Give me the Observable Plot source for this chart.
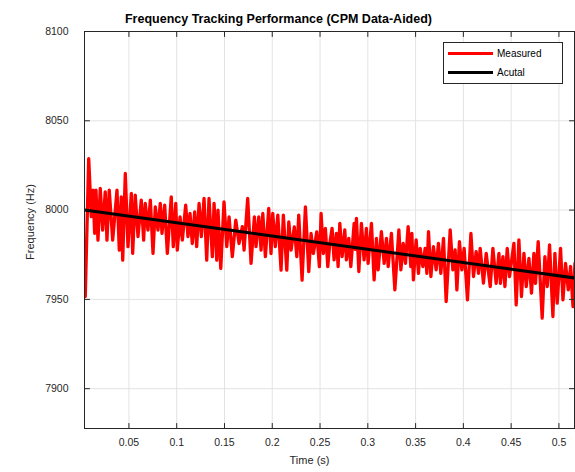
<!DOCTYPE html>
<html>
<head>
<meta charset="utf-8">
<script src="https://cdn.jsdelivr.net/npm/d3@7"></script>
<script src="https://cdn.jsdelivr.net/npm/@observablehq/plot@0.6"></script>
<style>
  html, body { margin: 0; padding: 0; background: #ffffff; }
  #chart svg { display: block; }
</style>
</head>
<body>
<div id="chart"></div>
<script>
// ---- data ----
const titleText = "Frequency Tracking Performance (CPM Data-Aided)";
const xLabelText = "Time (s)";
const yLabelText = "Frequency (Hz)";
const legendLabels = ["Measured", "Acutal"];
const legendColors = ["#ff0000", "#000000"];

const xTicks = [0.05, 0.1, 0.15, 0.2, 0.25, 0.3, 0.35, 0.4, 0.45, 0.5];
const yTicks = [7900, 7950, 8000, 8050, 8100];
const xDomain = [0.0035, 0.5163];
const yDomain = [7877.7, 8100];

const timeS = [
  0.0035,0.0043,0.0079,0.0106,0.0124,0.0141,0.0155,0.0176,0.0200,0.0225,
  0.0252,0.0270,0.0294,0.0330,0.0375,0.0399,0.0420,0.0435,0.0462,0.0490,
  0.0525,0.0539,0.0566,0.0595,0.0629,0.0654,0.0671,0.0699,0.0724,0.0752,
  0.0776,0.0804,0.0828,0.0846,0.0874,
  0.0902,0.0943,0.0964,0.0990,0.1006,0.1035,0.1059,0.1094,0.1118,0.1139,
  0.1163,0.1188,0.1209,0.1234,0.1258,0.1286,0.1314,0.1338,0.1373,0.1391,
  0.1419,0.1432,0.1461,0.1495,0.1524,0.1548,0.1582,0.1618,0.1652,0.1687,
  0.1705,
  0.1743,0.1778,0.1813,0.1830,0.1859,0.1883,0.1901,0.1928,0.1963,0.1987,
  0.2005,0.2032,0.2058,0.2092,0.2116,0.2152,0.2173,0.2197,0.2231,0.2257,
  0.2277,0.2312,0.2347,0.2382,0.2406,0.2430,0.2466,0.2493,0.2511,0.2535,
  0.2556,0.2581,
  0.2602,0.2626,0.2647,0.2671,0.2689,0.2707,0.2731,0.2759,0.2776,0.2801,
  0.2822,0.2857,0.2869,0.2881,0.2906,0.2933,0.2961,0.2985,0.3003,0.3038,0.3066,
  0.3090,0.3108,0.3142,0.3171,0.3195,0.3213,0.3247,0.3283,0.3325,0.3346,
  0.3370,0.3394,0.3422,0.3450,
  0.3461,0.3477,0.3506,0.3530,0.3548,0.3576,0.3600,0.3618,0.3635,0.3660,
  0.3687,0.3715,0.3739,0.3764,0.3792,0.3820,0.3862,0.3890,0.3914,0.3932,
  0.3959,0.3984,0.4008,0.4043,0.4079,0.4106,0.4134,0.4158,0.4176,0.4210,
  0.4239,0.4281,0.4309,
  0.4343,0.4372,0.4388,0.4414,0.4435,0.4459,0.4483,0.4529,0.4553,0.4581,
  0.4608,0.4634,0.4658,0.4686,0.4713,0.4738,0.4755,0.4783,0.4825,0.4853,
  0.4878,0.4902,0.4937,0.4958,0.4982,0.5017,0.5042,0.5069,0.5098,0.5122,
  0.5147,0.5168
];

const measuredHz = [
  7959.0,7951.6,8028.8,7996.3,8011.2,7987.0,8011.2,7983.2,8012.1,7988.8,
  8010.2,7983.2,8011.2,7983.2,8011.2,7977.6,8007.4,7972.0,8020.5,7979.5,
  8009.3,7975.8,8008.4,7985.1,8005.6,7983.2,8003.7,7988.8,8005.6,7975.8,
  8001.8,7988.8,8003.7,7987.0,8002.8,
  7975.8,8007.4,7979.5,8003.7,7977.6,7996.2,7983.2,8002.8,7985.1,7998.1,
  7981.3,7999.0,7979.5,8003.7,7985.1,8006.5,7972.0,8006.5,7973.9,8003.7,
  7972.0,7999.9,7967.4,8004.6,7979.5,7996.2,7973.9,7994.4,7981.3,7990.7,
  7977.6,
  8006.5,7970.2,7996.2,7979.5,7996.2,7977.6,7998.1,7973.9,8000.9,7975.7,
  7998.1,7979.5,7997.2,7966.4,7997.2,7966.4,7993.4,7977.6,7990.6,7973.9,
  7997.2,7960.8,8001.8,7965.5,7986.9,7975.7,7987.8,7968.3,7998.1,7975.7,
  7989.7,7968.3,
  7981.4,7989.8,7972.1,7987.0,7968.4,7992.6,7974.0,7988.9,7972.1,7984.2,
  7968.4,7992.6,7978.0,7995.4,7965.6,7992.6,7972.1,7989.8,7970.2,7992.6,7960.9,
  7984.2,7966.5,7987.9,7970.2,7984.2,7968.4,7987.0,7955.3,7988.9,7966.5,
  7981.4,7970.2,7990.7,7968.4,
  7987.0,7960.9,7983.3,7964.6,7978.6,7968.4,7978.6,7964.6,7987.9,7962.8,
  7979.5,7966.5,7981.4,7964.6,7984.2,7948.8,7988.9,7966.5,7977.7,7955.3,
  7982.3,7966.5,7978.6,7949.7,7987.0,7962.8,7976.7,7964.6,7978.6,7959.1,
  7975.8,7957.2,7978.6,
  7959.0,7975.8,7959.0,7973.9,7957.2,7978.6,7962.8,7981.4,7946.9,7983.3,
  7951.6,7975.8,7957.2,7973.0,7953.5,7975.8,7959.0,7982.3,7939.5,7973.9,
  7957.2,7980.5,7940.4,7975.8,7947.9,7978.6,7949.7,7970.2,7955.3,7968.4,
  7946.0,7970.2
];

const actualTime = [0.0035, 0.5163];
const actualHz = [8000, 7962];

// ---- build tables ----
const n = Math.min(timeS.length, measuredHz.length);
const measured = [];
for (let i = 0; i < n; i++) measured.push({t: timeS[i], hz: measuredHz[i]});
const actual = actualTime.map((t, i) => ({t, hz: actualHz[i]}));

const FONT = "'Liberation Sans', Arial, Helvetica, sans-serif";
const INK = "#262626";
const GRID = "#e3e3e3";

const tickShape = {draw(ctx, l) { ctx.moveTo(0, 0); ctx.lineTo(0, -l); }};
const tickOpts = {length: 5, anchor: "start", shape: tickShape, stroke: INK, strokeWidth: 1};

const chart = Plot.plot({
  width: 575,
  height: 472,
  marginLeft: 84,
  marginRight: 1,
  marginTop: 31,
  marginBottom: 44,
  style: {fontFamily: FONT, fontSize: "10.5px", color: INK, background: "#ffffff", overflow: "visible"},
  x: {domain: xDomain, label: null},
  y: {domain: yDomain, label: null},
  marks: [
    Plot.gridX(xTicks, {stroke: GRID, strokeOpacity: 1}),
    Plot.gridY(yTicks, {stroke: GRID, strokeOpacity: 1}),
    Plot.line(measured, {x: "t", y: "hz", stroke: "#ff0000", strokeWidth: 3.3, strokeLinejoin: "round", clip: true}),
    Plot.line(actual, {x: "t", y: "hz", stroke: "#000000", strokeWidth: 3, clip: true}),
    Plot.frame({stroke: INK, strokeWidth: 1}),
    Plot.vector(xTicks, {x: d => d, frameAnchor: "bottom", rotate: 0, ...tickOpts}),
    Plot.vector(xTicks, {x: d => d, frameAnchor: "top", rotate: 180, ...tickOpts}),
    Plot.vector(yTicks, {y: d => d, frameAnchor: "left", rotate: 90, ...tickOpts}),
    Plot.vector(yTicks, {y: d => d, frameAnchor: "right", rotate: -90, ...tickOpts}),
    Plot.axisX(xTicks, {tickSize: 0, tickPadding: 10, tickFormat: d => String(d), label: null, fill: INK, fontSize: 10.5}),
    Plot.axisY(yTicks, {tickSize: 0, tickPadding: 16, tickFormat: d => String(d), label: null, fill: INK, fontSize: 10.5}),
    Plot.text([xLabelText], {text: d => d, frameAnchor: "bottom", dy: 35, dx: -20, fill: INK, fontSize: 11}),
    Plot.text([yLabelText], {text: d => d, frameAnchor: "left", textAnchor: "middle", rotate: -90, dx: -54, dy: -8, fill: INK, fontSize: 11}),
    Plot.text([titleText], {text: d => d, frameAnchor: "top", dy: -17, dx: -51, fill: "#000000", fontSize: 12.5, fontWeight: "bold"})
  ]
});

// ---- legend (MATLAB-style box, top right) ----
const svg = d3.select(chart);
const lg = svg.append("g").attr("font-family", FONT).attr("font-size", 10)
  .attr("fill", "#000").attr("text-anchor", "start");
lg.append("rect")
  .attr("x", 443.5).attr("y", 42.5).attr("width", 119).attr("height", 41)
  .attr("fill", "#ffffff").attr("stroke", INK).attr("stroke-width", 1);
legendLabels.forEach((label, i) => {
  const yy = 53.5 + i * 19;
  lg.append("line").attr("x1", 448).attr("x2", 493).attr("y1", yy).attr("y2", yy)
    .attr("stroke", legendColors[i]).attr("stroke-width", 3);
  lg.append("text").attr("x", 497).attr("y", yy).attr("dy", "0.32em")
    .attr("text-anchor", "start").text(label);
});

document.getElementById("chart").appendChild(chart);
</script>
</body>
</html>
